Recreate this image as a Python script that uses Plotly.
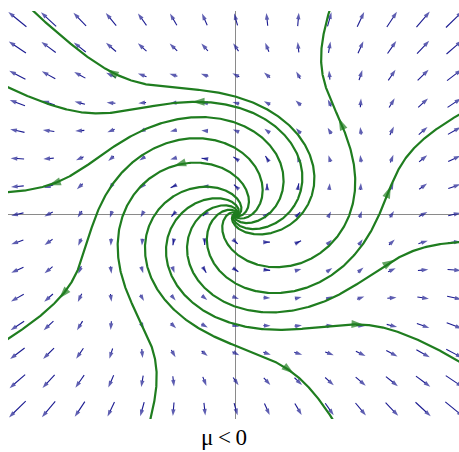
import numpy as np
import plotly.graph_objects as go

# ---- data ----
LABEL = "μ\u2009<\u20090"
# ratio of radial to rotational speed: h(r) = a + b r^2 + c r^4 ; angular speed OMEGA
H_COEFFS = [1.15, -0.106, 0.00332]
OMEGA = 1.0

grid_x = [-7, -6, -5, -4, -3, -2, -1, 0, 1, 2, 3, 4, 5, 6, 7]
grid_y = [-7, -6, -5, -4, -3, -2, -1, 0, 1, 2, 3, 4, 5, 6, 7]

# points where each streamline leaves the frame
exit_x = [-6.44, -7.3, -7.3, -7.3, -2.75, 3.14, 7.15, 7.15, 7.15, 2.98]
exit_y = [7.24, 4.55, 0.79, -4.48, -7.42, -7.42, -5.27, -1.0, 3.58, 7.24]

# approximate positions of the arrowheads on the streamlines
arrow_x = [-4.2, -1.41, -2.05, -5.96, -5.54, 1.92, 4.1, 5.0, 4.8, 3.1]
arrow_y = [5.13, 3.87, 1.9, 0.9, -3.12, -5.63, -3.94, -1.5, 1.08, 3.4]

# ---- layout constants ----
W, H = 459, 452
ML, MR, MT, MB = 8, 0, 11, 33
XR = [-7.3, 7.15]
YR = [-7.35, 7.3]
PX_X = (W - ML - MR) / (XR[1] - XR[0])
PX_Y = (H - MT - MB) / (YR[1] - YR[0])

LINE_COLOR = "#1f7d1f"
ARROW_COLOR = "#1a1a90"


def h(r):
    return H_COEFFS[0] + H_COEFFS[1] * r ** 2 + H_COEFFS[2] * r ** 4


fig = go.Figure()

# ---- vector field (quiver) ----
qx, qy, qs = [], [], []
for yy in grid_y:
    for xx in grid_x:
        r = np.hypot(xx, yy)
        if r == 0:
            continue
        u = OMEGA * (h(r) * xx - yy)
        v = OMEGA * (h(r) * yy + xx)
        mag = np.hypot(u, v)
        ux, uy = u / mag, v / mag
        lpx = 4.6 * mag ** 0.3
        ld = lpx / np.hypot(PX_X * ux, PX_Y * uy)
        qx += [xx - ux * ld / 2, xx + ux * ld / 2, None]
        qy += [yy - uy * ld / 2, yy + uy * ld / 2, None]
        qs += [0, 7, 0]

fig.add_trace(go.Scatter(
    x=qx, y=qy, mode="lines+markers",
    line=dict(color=ARROW_COLOR, width=1.1),
    marker=dict(symbol="arrow", size=qs, color=ARROW_COLOR, angleref="previous",
                line=dict(width=0)),
    hoverinfo="skip", showlegend=False))

# ---- streamlines ----
lnr = np.linspace(np.log(0.02), np.log(14), 2000)
rr = np.exp(lnr)
dth = 1.0 / h(rr)
cum = np.concatenate([[0.0], np.cumsum(0.5 * (dth[1:] + dth[:-1]) * np.diff(lnr))])

lines = []
for ex, ey in zip(exit_x, exit_y):
    re = np.hypot(ex, ey)
    te = np.arctan2(ey, ex)
    ce = np.interp(np.log(re), lnr, cum)
    th = te + (cum - ce)
    xs = rr * np.cos(th)
    ys = rr * np.sin(th)
    lines.append((xs, ys))
    fig.add_trace(go.Scatter(x=xs, y=ys, mode="lines",
                             line=dict(color=LINE_COLOR, width=2.2),
                             hoverinfo="skip", showlegend=False))

# ---- arrowheads on streamlines ----
ax_, ay_, as_ = [], [], []
for px, py in zip(arrow_x, arrow_y):
    best = None
    for xs, ys in lines:
        d = np.hypot(xs - px, ys - py)
        i = int(np.argmin(d))
        if best is None or d[i] < best[0]:
            best = (d[i], xs, ys, i)
    _, xs, ys, i = best
    ax_ += [xs[i - 5], xs[i]]
    ay_ += [ys[i - 5], ys[i]]
    as_ += [0, 13]

fig.add_trace(go.Scatter(
    x=ax_, y=ay_, mode="markers",
    marker=dict(symbol="arrow", size=as_, color=LINE_COLOR, angleref="previous",
                line=dict(width=0)),
    hoverinfo="skip", showlegend=False))

axis_common = dict(showgrid=False, showticklabels=False, ticks="",
                   zeroline=True, zerolinecolor="#8a8a8a", zerolinewidth=1,
                   showline=False, fixedrange=True)

fig.update_layout(
    width=W, height=H,
    margin=dict(l=ML, r=MR, t=MT, b=MB, pad=0),
    paper_bgcolor="white", plot_bgcolor="white",
    xaxis=dict(range=XR, **axis_common),
    yaxis=dict(range=YR, **axis_common),
    annotations=[dict(text=LABEL, xref="paper", yref="paper",
                      x=(224 - ML) / (W - ML - MR), y=-(H - 1 - (H - MB)) / (H - MT - MB),
                      xanchor="center", yanchor="bottom", showarrow=False,
                      borderpad=0,
                      font=dict(family="Liberation Serif", size=23, color="black"))],
)

fig.write_html("out.html")
